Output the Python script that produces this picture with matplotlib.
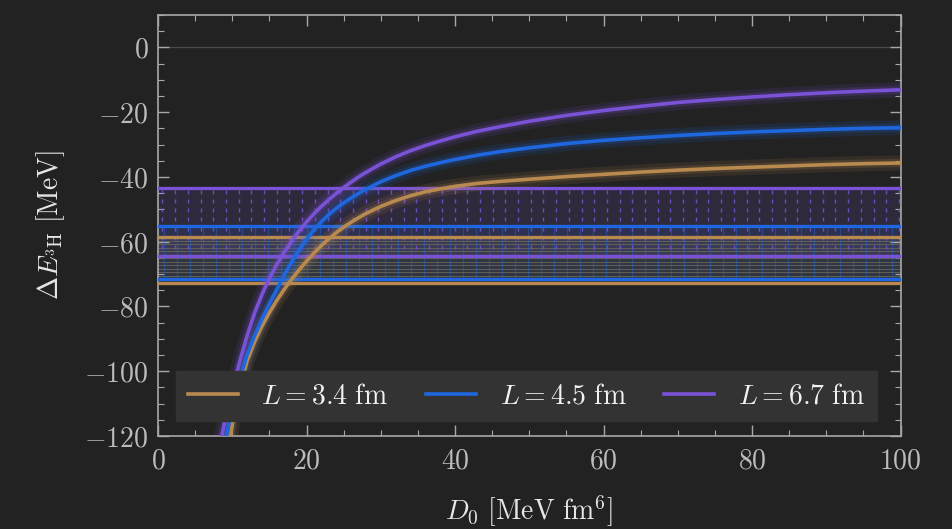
import numpy as np
import matplotlib
matplotlib.use("Agg")
import matplotlib.pyplot as plt
from matplotlib.ticker import MultipleLocator, FuncFormatter

plt.rcParams['mathtext.fontset'] = 'cm'
plt.rcParams['font.family'] = ['DejaVu Serif']

# ---------------- data ----------------
D0 = [8.5, 9, 9.5, 10, 11, 12, 13, 14, 15, 16, 17, 18, 19, 20, 21, 22, 23, 24,
      25, 26, 27, 28, 30, 32, 34, 36, 38, 40, 43, 46, 50, 55, 60, 65, 70, 75,
      80, 85, 90, 95, 100]
E_L34 = [-140, -133, -124, -116.5, -105.5, -96.8, -91.0, -86.1, -81.9, -78.1,
         -74.7, -71.6, -68.7, -66.0, -63.5, -61.2, -59.1, -57.2, -55.5, -54.0,
         -52.6, -51.3, -49.1, -47.3, -45.8, -44.6, -43.7, -42.9, -42.0, -41.4,
         -40.7, -39.9, -39.2, -38.5, -37.9, -37.4, -37.0, -36.6, -36.2, -35.9,
         -35.7]
E_L45 = [-128, -122, -116.5, -111.5, -102.5, -94.8, -89.0, -83.9, -79.1, -74.7,
         -70.3, -66.2, -62.5, -59.2, -56.3, -53.8, -51.6, -49.7, -48.0, -46.5,
         -45.1, -43.8, -41.5, -39.6, -38.0, -36.7, -35.6, -34.6, -33.3, -32.2,
         -31.0, -29.7, -28.7, -27.9, -27.2, -26.6, -26.1, -25.7, -25.3, -25.0,
         -24.8]
E_L67 = [-121, -115.5, -110.5, -106, -97, -89, -82, -76.3, -71.3, -67, -63.2,
         -59.8, -56.7, -53.9, -51.4, -49.1, -47.0, -45.1, -43.3, -41.6, -40.0,
         -38.6, -36.0, -33.8, -31.9, -30.3, -28.9, -27.6, -25.9, -24.5, -22.8,
         -21.0, -19.5, -18.2, -17.0, -16.1, -15.3, -14.6, -14.0, -13.5, -13.1]

# horizontal bands (lower, upper)
band_L34 = (-72.7, -58.7)
band_L45 = (-71.4, -55.2)
band_L67 = (-64.5, -43.3)

labels = [r'$L = 3.4\ \mathrm{fm}$', r'$L = 4.5\ \mathrm{fm}$', r'$L = 6.7\ \mathrm{fm}$']
x_ticks = [0, 20, 40, 60, 80, 100]
y_ticks = [0, -20, -40, -60, -80, -100, -120]

# ---------------- style ----------------
BG = '#222222'
C_OR = '#b98a4f'
C_BL = '#1f67de'
C_PU = '#7a52d6'
TICKC = '#a8a8a8'

fig = plt.figure(figsize=(9.52, 5.29), dpi=100, facecolor=BG)
ax = fig.add_axes([0.166, 0.1758, 0.780, 0.7958], facecolor=BG)

xlim = (0, 100)
ylim = (-120, 10)
ax.set_xlim(*xlim)
ax.set_ylim(*ylim)

# zero line
ax.axhline(0, color='#4a4a4a', lw=0.9, zorder=1)

# band fills
ax.axhspan(*band_L67, color=C_PU, alpha=0.15, lw=0, zorder=1)
ax.axhspan(*band_L45, color=C_BL, alpha=0.12, lw=0, zorder=1)
ax.axhspan(*band_L34, color='#6b6b6b', alpha=0.18, lw=0, zorder=1)

# orange band: horizontal hatch lines
yh = np.arange(band_L34[0] + 1.05, band_L34[1], 1.08)
ax.hlines(yh, xlim[0], xlim[1], color='#6f665a', lw=0.8, alpha=0.8, zorder=2)

# blue band: vertical hatch lines
xv = np.arange(0.8, 100, 1.75)
ax.vlines(xv, band_L45[0], band_L45[1], color=C_BL, lw=0.9, alpha=0.45, zorder=2)

# purple band: dash pattern
xd = np.arange(0.6, 100, 1.71)
yd = np.arange(band_L67[1] - 1.3, band_L67[0] + 0.5, -2.84)
XX, YY = np.meshgrid(xd, yd)
ax.scatter(XX.ravel(), YY.ravel(), marker='|', s=5, color=C_PU, alpha=0.85,
           linewidths=1.0, zorder=3)

# band edge lines
for (lo, hi), c in [(band_L34, C_OR), (band_L45, C_BL), (band_L67, C_PU)]:
    ax.axhline(lo, color=c, lw=2.4, zorder=4)
    ax.axhline(hi, color=c, lw=2.4, zorder=4)

# curves with glow
handles = []
for E, c, lab in [(E_L34, C_OR, labels[0]), (E_L45, C_BL, labels[1]), (E_L67, C_PU, labels[2])]:
    ax.plot(D0, E, color=c, lw=11, alpha=0.12, solid_capstyle='butt', zorder=5)
    ax.plot(D0, E, color=c, lw=6, alpha=0.18, solid_capstyle='butt', zorder=5)
    h, = ax.plot(D0, E, color=c, lw=2.6, label=lab, zorder=6)
    handles.append(h)

# axes styling
for s in ax.spines.values():
    s.set_color(TICKC)
    s.set_linewidth(1.2)
ax.set_xticks(x_ticks)
ax.set_yticks(y_ticks)
ax.xaxis.set_minor_locator(MultipleLocator(5))
ax.yaxis.set_minor_locator(MultipleLocator(5))
fmt = FuncFormatter(lambda v, p: r'$%d$' % int(round(v)))
ax.xaxis.set_major_formatter(fmt)
ax.yaxis.set_major_formatter(fmt)
ax.tick_params(which='both', direction='in', top=True, right=True, color=TICKC,
               labelcolor='#bcbcbc', labelsize=20)
ax.tick_params(which='major', length=8, width=1.0, pad=8)
ax.tick_params(axis='y', which='major', pad=7)
ax.tick_params(which='minor', length=4.5, width=0.8)

ax.set_xlabel(r'$D_0\ [\mathrm{MeV\ fm}^6]$', fontsize=20, color='#e6e6e6', labelpad=14)
ax.set_ylabel(r'$\Delta E_{{}^3\mathrm{H}}\ [\mathrm{MeV}]$', fontsize=20, color='#e6e6e6', labelpad=12)

leg = ax.legend(handles=handles, loc='lower center', bbox_to_anchor=(0.496, 0.022),
                ncol=3, fontsize=20, frameon=True, facecolor='#333333', edgecolor='#333333',
                framealpha=1.0, fancybox=False, handlelength=1.8, columnspacing=1.35,
                handletextpad=0.85, borderpad=0.42, borderaxespad=0.2)
for t in leg.get_texts():
    t.set_color('#f2f2f2')
leg.set_zorder(10)

fig.savefig('out.png', dpi=100, facecolor=BG)
